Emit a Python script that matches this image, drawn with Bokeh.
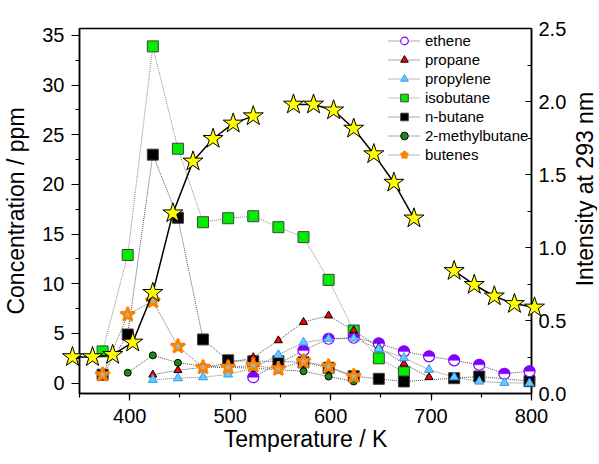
import math
from bokeh.plotting import figure
from bokeh.models import (Range1d, LinearAxis, SingleIntervalTicker, NumeralTickFormatter,
                          Legend, LegendItem)
from bokeh.core.properties import value
from bokeh.embed import file_html
from bokeh.resources import INLINE

# ---------------- data ----------------
ethene_T = [523, 573, 598, 623, 648, 673, 698, 723, 748, 773, 798]
ethene_C = [0.6, 3.3, 4.47, 4.57, 4.0, 3.2, 2.7, 2.3, 1.85, 0.95, 1.2]

propane_T = [423, 448, 473, 498, 523, 548, 573, 598, 623, 648, 673, 698]
propane_C = [0.85, 1.3, 1.6, 2.0, 2.6, 4.3, 6.15, 6.8, 5.3, 3.6, 1.95, 0.6]

propylene_T = [423, 448, 473, 498, 523, 548, 573, 598, 623, 648, 673, 698, 723, 748, 773, 798]
propylene_C = [0.34, 0.5, 0.6, 0.88, 1.5, 2.85, 4.1, 4.47, 4.5, 3.45, 2.55, 1.35, 0.6, 0.17, 0.04, 0.0]

isobutane_T = [373, 398, 423, 448, 473, 498, 523, 548, 573, 598, 623, 648, 673]
isobutane_C = [3.2, 12.9, 33.9, 23.6, 16.2, 16.6, 16.8, 15.7, 14.7, 10.4, 5.3, 2.5, 1.1]

nbutane_T = [373, 398, 423, 448, 473, 498, 523, 548, 573, 598, 623, 648, 673, 723, 748, 798]
nbutane_C = [0.85, 4.9, 23.0, 16.65, 4.4, 2.3, 2.2, 2.2, 2.1, 1.55, 0.7, 0.44, 0.17, 0.5, 0.67, 0.2]

methylbutane_T = [398, 423, 448, 473, 498, 523, 548, 573, 598, 623]
methylbutane_C = [1.05, 2.8, 2.05, 1.7, 1.6, 1.5, 1.35, 1.2, 0.67, 0.17]

butenes_T = [373, 398, 423, 448, 473, 498, 523, 548, 573, 598, 623]
butenes_C = [0.85, 6.9, 8.26, 3.7, 1.6, 1.6, 1.78, 1.45, 2.2, 1.68, 0.7]

intensity_T = [343, 363, 383, 403, 423, 443, 463, 483, 503, 523, 563, 583, 603, 623, 643, 663, 683,
               723, 743, 763, 783, 803]
intensity_I = [0.25, 0.25, 0.265, 0.35, 0.69, 1.235, 1.59, 1.745, 1.85, 1.90, 1.98, 1.98, 1.94, 1.815,
               1.64, 1.445, 1.20, 0.84, 0.745, 0.666, 0.614, 0.59]

right_title = "Intensity at 293 nm"
right_title_pos = (853, 1.40)   # label anchor (x in K, y in intensity units)

FONT = "Liberation Sans"

# ---------------- figure ----------------
p = figure(output_backend="svg", toolbar_location=None,
           frame_width=452, frame_height=365,
           min_border_left=73, min_border_right=66, min_border_top=28, min_border_bottom=55,
           x_range=Range1d(350, 800), y_range=Range1d(-1.04, 35.7))
p.extra_y_ranges = {"int": Range1d(0, 2.5)}
p.xgrid.visible = False
p.ygrid.visible = False
p.outline_line_color = "black"
p.outline_line_width = 1.5
p.outline_line_alpha = 1.0
p.background_fill_color = "white"
p.border_fill_color = "white"

def style_axis(ax):
    ax.axis_line_color = "black"
    ax.axis_line_width = 1.5
    ax.major_tick_line_color = "black"
    ax.minor_tick_line_color = "black"
    ax.major_tick_line_width = 1.2
    ax.minor_tick_line_width = 1.2
    ax.major_label_text_font = FONT
    ax.major_label_text_font_size = "20px"
    ax.major_label_text_color = "black"
    ax.axis_label_text_font = FONT
    ax.axis_label_text_font_size = "23px"
    ax.axis_label_text_font_style = "normal"
    ax.axis_label_text_color = "black"

xa = p.xaxis[0]
xa.ticker = SingleIntervalTicker(interval=100, num_minor_ticks=2)
xa.axis_label = "Temperature / K"
style_axis(xa)
xa.major_tick_out = 7
xa.major_tick_in = 0
xa.minor_tick_out = 4
xa.minor_tick_in = 0
xa.major_label_standoff = 8
xa.axis_label_standoff = 0

ya = p.yaxis[0]
ya.ticker = SingleIntervalTicker(interval=5, num_minor_ticks=2)
ya.axis_label = "Concentration / ppm"
style_axis(ya)
ya.major_tick_out = 8
ya.major_tick_in = 0
ya.minor_tick_out = 4
ya.minor_tick_in = 0
ya.major_label_standoff = 7
ya.axis_label_standoff = 10

ra = LinearAxis(y_range_name="int",
                ticker=SingleIntervalTicker(interval=0.5, num_minor_ticks=2),
                formatter=NumeralTickFormatter(format="0.0"))
style_axis(ra)
ra.major_tick_out = 0
ra.major_tick_in = 6
ra.minor_tick_out = 0
ra.minor_tick_in = 4
ra.major_label_standoff = 7
p.add_layout(ra, "right")

DASH = "1 1"

def series_line(xs, ys, color):
    return p.line(xs, ys, line_color=color, line_width=1, line_dash=DASH, level="overlay")

# connecting lines
l_eth = series_line(ethene_T, ethene_C, "#555555")
l_pro = series_line(propane_T, propane_C, "#555555")
l_ply = series_line(propylene_T, propylene_C, "#777777")
l_iso = series_line(isobutane_T, isobutane_C, "#888888")
l_nbu = series_line(nbutane_T, nbutane_C, "#555555")
l_mb = series_line(methylbutane_T, methylbutane_C, "#555555")
l_bt = series_line(butenes_T, butenes_C, "#666666")

# markers
m_iso = p.scatter(isobutane_T, isobutane_C, marker="square", size=11, fill_color="#00EE00",
                  line_color="#404040", line_width=1, level="overlay")
m_nbu = p.scatter(nbutane_T, nbutane_C, marker="square", size=11, fill_color="black",
                  line_color="#404040", line_width=1, level="overlay")
m_eth = p.scatter(ethene_T, ethene_C, marker="circle", size=11, fill_color="white",
                  line_color="#8000FF", line_width=1.2, level="overlay")
p.wedge(ethene_T, ethene_C, radius=5.5, radius_units="screen", start_angle=0, end_angle=math.pi,
        fill_color="#8000FF", line_color="#8000FF", line_width=0.5, level="overlay")
m_pro = p.scatter(propane_T, propane_C, marker="triangle", size=8, fill_color="#FF0000",
                  line_color="black", line_width=1, level="overlay")
m_ply = p.scatter(propylene_T, propylene_C, marker="triangle", size=9, fill_color="#66CCFF",
                  line_color="#3399EE", line_width=1, level="overlay")
m_mb = p.scatter(methylbutane_T, methylbutane_C, marker="circle", size=7, fill_color="#1A8A1A",
                 line_color="black", line_width=1, level="overlay")
m_bt = p.scatter(butenes_T, butenes_C, marker="star", size=15, fill_color="#9FB8B0",
                 line_color="#FF8000", line_width=2.5, level="overlay")

# intensity (right axis): solid line, broken where samples are missing
seg_x, seg_y = [], []
for i, (t, v) in enumerate(zip(intensity_T, intensity_I)):
    if i > 0 and t - intensity_T[i - 1] > 30:
        p.line(seg_x, seg_y, y_range_name="int", line_color="black", line_width=1.5, level="overlay")
        seg_x, seg_y = [], []
    seg_x.append(t)
    seg_y.append(v)
p.line(seg_x, seg_y, y_range_name="int", line_color="black", line_width=1.5, level="overlay")
p.scatter(intensity_T, intensity_I, y_range_name="int", marker="star", size=21,
          fill_color="#FFFF00", line_color="black", line_width=1, level="overlay")

# right axis title, reading bottom-to-top like the left one
p.text(x=[right_title_pos[0]], y=[right_title_pos[1]], text=[right_title], y_range_name="int",
       angle=math.pi / 2, text_align="center", text_baseline="middle",
       text_font=value(FONT), text_font_size="23px", text_color="black", level="overlay")

legend = Legend(items=[
    LegendItem(label="ethene", renderers=[l_eth, m_eth]),
    LegendItem(label="propane", renderers=[l_pro, m_pro]),
    LegendItem(label="propylene", renderers=[l_ply, m_ply]),
    LegendItem(label="isobutane", renderers=[l_iso, m_iso]),
    LegendItem(label="n-butane", renderers=[l_nbu, m_nbu]),
    LegendItem(label="2-methylbutane", renderers=[l_mb, m_mb]),
    LegendItem(label="butenes", renderers=[l_bt, m_bt]),
], location=(309, 229))
legend.label_text_font = FONT
legend.label_text_font_size = "15px"
legend.label_text_color = "black"
legend.glyph_width = 32
legend.glyph_height = 19
legend.label_height = 19
legend.label_standoff = 5
legend.spacing = 0
legend.padding = 0
legend.margin = 0
legend.background_fill_alpha = 0
legend.border_line_alpha = 0
p.add_layout(legend)

open("out.html", "w").write(file_html(p, INLINE))
